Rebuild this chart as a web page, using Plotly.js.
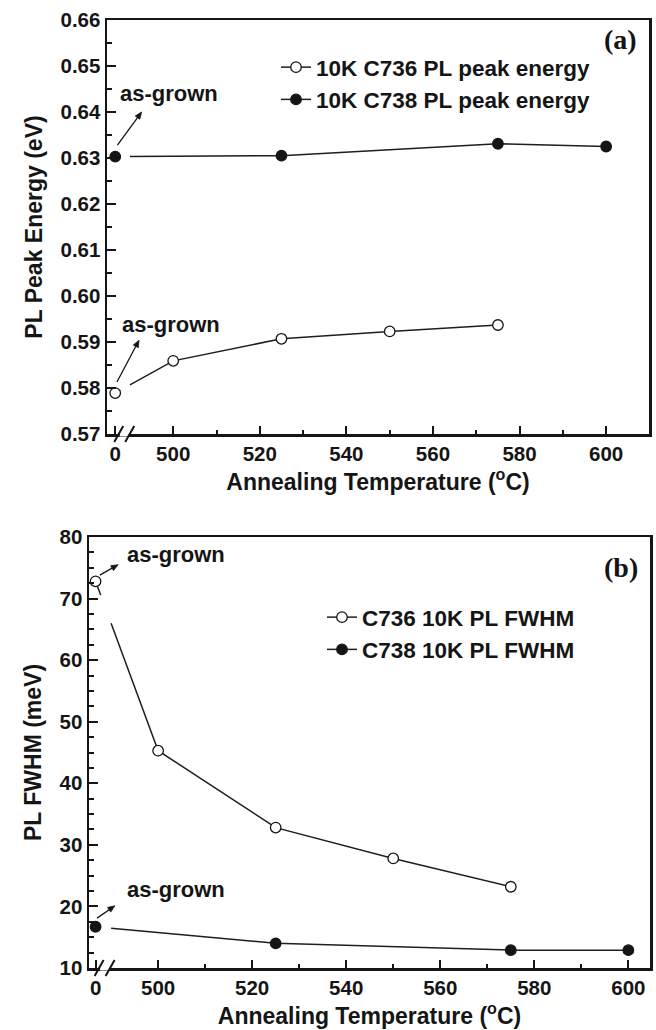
<!DOCTYPE html>
<html>
<head>
<meta charset="utf-8">
<script src="https://cdn.plot.ly/plotly-3.0.1.min.js"></script>
<style>html,body{margin:0;padding:0;background:#fff;}#chart{width:656px;height:1030px;}</style>
</head>
<body>
<div id="chart"></div>
<script>
// ---------- data (0 = as-grown sample) ----------
const tempsC736 = [0, 500, 525, 550, 575];
const tempsC738 = [0, 525, 575, 600];
const peakC736 = [0.5789, 0.5859, 0.5907, 0.5923, 0.5937];
const peakC738 = [0.6303, 0.6305, 0.6331, 0.6325];
const fwhmC736 = [72.8, 45.3, 32.8, 27.8, 23.2];
const fwhmC738 = [16.7, 14.0, 12.9, 12.9];
const seriesNamesA = ['10K C736 PL peak energy', '10K C738 PL peak energy'];
const seriesNamesB = ['C736 10K PL FWHM', 'C738 10K PL FWHM'];
const xTickTemps = [0, 500, 520, 540, 560, 580, 600];
const xTickText = ['0', '500', '520', '540', '560', '580', '600'];
const xMinorTemps = [510, 530, 550, 570, 590];

// ---------- layout geometry ----------
const W = 656, H = 1030;
const topBox = {l: 107, r: 649, t: 20, b: 434};
const botBox = {l: 89, r: 650, t: 537, b: 968};
const topXRange = [484.7, 609.9], topYRange = [0.57, 0.66];
const botXRange = [485.3, 604.6], botYRange = [10, 80];
const AS_POS_TOP = 486.6, AS_POS_BOT = 486.7;   // where the broken axis puts "0"
const GAP_START = 487.8, GAP_END = 490.0;        // line gap across the axis break

const FONT = 'Liberation Sans, Arial, sans-serif';
const SERIF = 'Liberation Serif, Times New Roman, serif';
const INK = '#151515';

function buildTrace(temps, vals, asPos, filled, name, xa, ya, legendId) {
  const xs = [], ys = [], mc = [], mlc = [];
  const fill = filled ? INK : '#ffffff';
  const clear = 'rgba(0,0,0,0)';
  const p = temps.map(t => t === 0 ? asPos : t);
  for (let i = 0; i < p.length; i++) {
    if (i === 1 && temps[0] === 0) {
      const x0 = p[0], y0 = vals[0], x1 = p[1], y1 = vals[1];
      const at = xx => y0 + (y1 - y0) * (xx - x0) / (x1 - x0);
      xs.push(GAP_START, null, GAP_END);
      ys.push(at(GAP_START), null, at(GAP_END));
      mc.push(clear, clear, clear); mlc.push(clear, clear, clear);
    }
    xs.push(p[i]); ys.push(vals[i]); mc.push(fill); mlc.push(INK);
  }
  return {
    type: 'scatter', mode: 'lines+markers', name: name,
    x: xs, y: ys, xaxis: xa, yaxis: ya, legend: legendId,
    cliponaxis: false, connectgaps: false,
    line: {color: '#1e1e1e', width: 1.5},
    marker: {symbol: 'circle', size: 10.5, color: mc, line: {color: mlc, width: 1.3}}
  };
}

const traces = [
  buildTrace(tempsC736, peakC736, AS_POS_TOP, false, seriesNamesA[0], 'x', 'y', 'legend'),
  buildTrace(tempsC738, peakC738, AS_POS_TOP, true, seriesNamesA[1], 'x', 'y', 'legend'),
  buildTrace(tempsC736, fwhmC736, AS_POS_BOT, false, seriesNamesB[0], 'x2', 'y2', 'legend2'),
  buildTrace(tempsC738, fwhmC738, AS_POS_BOT, true, seriesNamesB[1], 'x2', 'y2', 'legend2')
];

const tickFont = {family: FONT, size: 20.5, color: INK, weight: 'bold'};
const titleFont = {family: FONT, size: 23, color: INK, weight: 'bold'};

function xAxis(box, range, asPos, anchor) {
  return {
    domain: [box.l / W, box.r / W], range: range, anchor: anchor,
    tickmode: 'array', tickvals: xTickTemps.map(t => t === 0 ? asPos : t), ticktext: xTickText,
    ticks: 'inside', ticklen: 8, tickwidth: 2, tickcolor: INK,
    minor: {tickmode: 'array', tickvals: xMinorTemps, ticks: 'inside', ticklen: 4, tickwidth: 2, tickcolor: INK},
    showline: true, linewidth: 2.5, linecolor: INK, mirror: true,
    showgrid: false, zeroline: false, tickfont: tickFont,
    title: {text: 'Annealing Temperature (<sup>o</sup>C)', font: titleFont, standoff: 10}
  };
}
function yAxis(box, range, dtick, minorD, fmt, title, anchor) {
  return {
    domain: [1 - box.b / H, 1 - box.t / H], range: range, anchor: anchor,
    dtick: dtick, tick0: range[0], tickformat: fmt,
    ticks: 'inside', ticklen: 9, tickwidth: 2, tickcolor: INK,
    minor: {dtick: minorD, ticks: 'inside', ticklen: 5, tickwidth: 2, tickcolor: INK},
    showline: true, linewidth: 2.5, linecolor: INK, mirror: true,
    showgrid: false, zeroline: false, tickfont: tickFont,
    title: {text: title, font: titleFont, standoff: 12}
  };
}

// pixel helpers for decorations (axis break, arrows)
function toPx(box, xr, yr, x, y) {
  return [box.l + (x - xr[0]) * (box.r - box.l) / (xr[1] - xr[0]),
          box.b - (y - yr[0]) * (box.b - box.t) / (yr[1] - yr[0])];
}
const PX = v => v / W, PY = v => 1 - v / H;

function breakShapes(box, xr, asPos) {
  const px = toPx(box, xr, [0, 1], asPos, 0)[0];
  const py = box.b;
  const X = v => PX(px + v), Y = v => PY(py - v);
  const ln = {color: INK, width: 2};
  return [
    {type: 'rect', xref: 'paper', yref: 'paper', x0: X(4.5), x1: X(13.5), y0: Y(-2.5), y1: Y(2.5), line: {width: 0}, fillcolor: '#ffffff', layer: 'above'},
    {type: 'line', xref: 'paper', yref: 'paper', x0: X(-1), y0: Y(-8), x1: X(8), y1: Y(8), line: ln, layer: 'above'},
    {type: 'line', xref: 'paper', yref: 'paper', x0: X(10), y0: Y(-8), x1: X(19), y1: Y(8), line: ln, layer: 'above'}
  ];
}

function arrowShapes(box, xr, yr, xt, yt, xh, yh) {
  const t = toPx(box, xr, yr, xt, yt), h = toPx(box, xr, yr, xh, yh);
  const dx = h[0] - t[0], dy = h[1] - t[1], L = Math.hypot(dx, dy);
  const ux = dx / L, uy = dy / L, len = 7, hw = 2.8;
  const bx = h[0] - ux * len, by = h[1] - uy * len;
  const p1 = [bx - uy * hw, by + ux * hw], p2 = [bx + uy * hw, by - ux * hw];
  return [
    {type: 'line', xref: 'paper', yref: 'paper', x0: PX(t[0]), y0: PY(t[1]), x1: PX(bx + ux), y1: PY(by + uy),
      line: {color: INK, width: 1.3}, layer: 'above'},
    {type: 'path', xref: 'paper', yref: 'paper', layer: 'above', fillcolor: INK, line: {color: INK, width: 0.8},
      path: 'M' + PX(h[0]) + ',' + PY(h[1]) + ' L' + PX(p1[0]) + ',' + PY(p1[1]) + ' L' + PX(p2[0]) + ',' + PY(p2[1]) + ' Z'}
  ];
}

const annFont = {family: FONT, size: 22, color: INK, weight: 'bold'};
function label(text, x, y, xr, yr) {
  return {text: text, x: x, y: y, xref: xr, yref: yr, xanchor: 'left', yanchor: 'middle', showarrow: false, font: annFont};
}

const shapes = []
  .concat(breakShapes(topBox, topXRange, AS_POS_TOP))
  .concat(breakShapes(botBox, botXRange, AS_POS_BOT))
  .concat(arrowShapes(topBox, topXRange, topYRange, 487.1, 0.6328, 492.7, 0.6400))
  .concat(arrowShapes(topBox, topXRange, topYRange, 487.0, 0.5813, 492.1, 0.5904))
  .concat(arrowShapes(botBox, botXRange, botYRange, 487.6, 73.8, 491.5, 75.5))
  .concat(arrowShapes(botBox, botXRange, botYRange, 487.0, 18.1, 490.8, 20.1));

const legendFont = {family: FONT, size: 22.5, color: INK, weight: 'bold'};

const layout = {
  width: W, height: H,
  margin: {l: 0, r: 0, t: 0, b: 0},
  paper_bgcolor: '#ffffff', plot_bgcolor: '#ffffff',
  showlegend: true,
  xaxis: xAxis(topBox, topXRange, AS_POS_TOP, 'y'),
  yaxis: yAxis(topBox, topYRange, 0.01, 0.005, '.2f', 'PL Peak Energy (eV)', 'x'),
  xaxis2: xAxis(botBox, botXRange, AS_POS_BOT, 'y2'),
  yaxis2: yAxis(botBox, botYRange, 10, 2.5, 'd', 'PL FWHM (meV)', 'x2'),
  legend: {x: 276 / W, y: 1 - 46 / H, xanchor: 'left', yanchor: 'top', bgcolor: 'rgba(0,0,0,0)',
    font: legendFont, tracegroupgap: 0, itemwidth: 30},
  legend2: {x: 322 / W, y: 1 - 596 / H, xanchor: 'left', yanchor: 'top', bgcolor: 'rgba(0,0,0,0)',
    font: legendFont, tracegroupgap: 0, itemwidth: 30},
  shapes: shapes,
  annotations: [
    label('as-grown', 487.2, 0.6441, 'x', 'y'),
    label('as-grown', 487.7, 0.5937, 'x', 'y'),
    {text: '(a)', x: 607.6, y: 0.6557, xref: 'x', yref: 'y', xanchor: 'right', yanchor: 'middle', showarrow: false,
      font: {family: SERIF, size: 28, color: INK, weight: 'bold'}},
    label('as-grown', 493.0, 77.1, 'x2', 'y2'),
    label('as-grown', 493.0, 22.7, 'x2', 'y2'),
    {text: '(b)', x: 602.5, y: 75.1, xref: 'x2', yref: 'y2', xanchor: 'right', yanchor: 'middle', showarrow: false,
      font: {family: SERIF, size: 28, color: INK, weight: 'bold'}}
  ]
};

Plotly.newPlot('chart', traces, layout, {displayModeBar: false, staticPlot: true});
</script>
</body>
</html>
